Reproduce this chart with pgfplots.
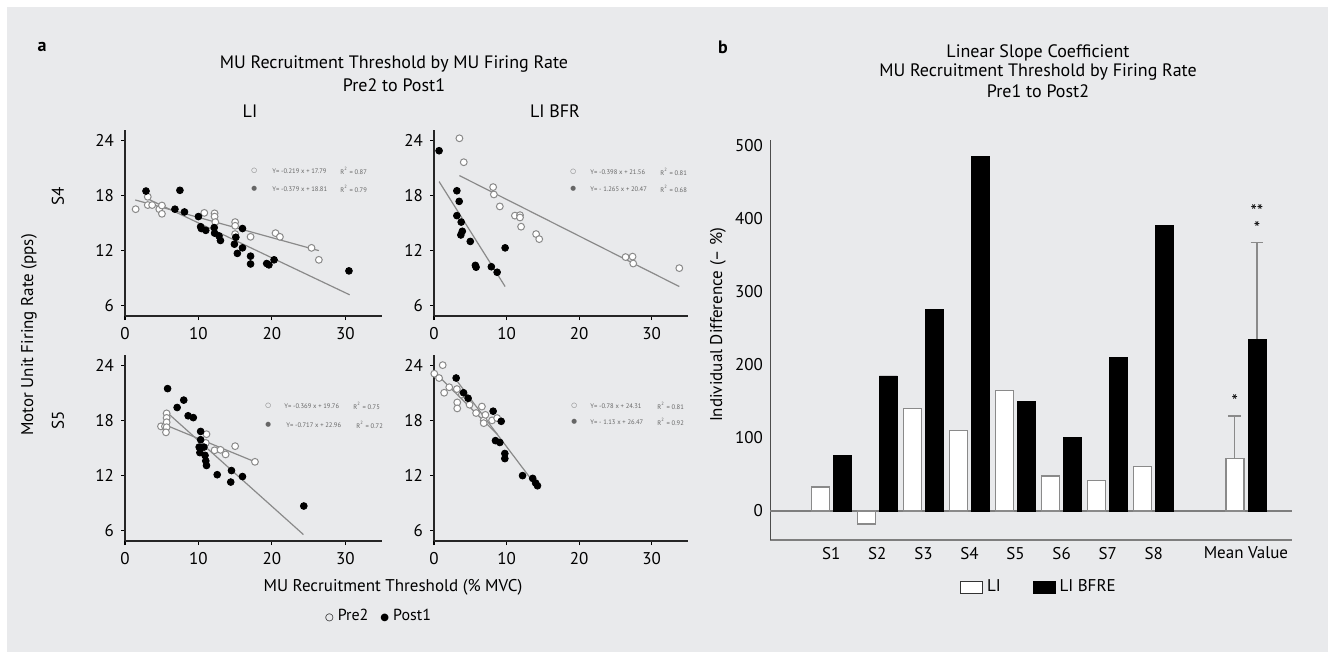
\documentclass[border=0pt]{standalone}
\usepackage{fontspec}
\setmainfont{PT Sans}
\newfontfamily\symfont{DejaVu Sans}
\usepackage{pgfplots}
\pgfplotsset{compat=1.18}
\definecolor{bg}{HTML}{E9EAEC}
\definecolor{lgray}{HTML}{8A8A8A}
\definecolor{axgray}{HTML}{7E7E7E}
\pgfplotsset{
  scat/.style={
    scale only axis, height=93pt,
    xmin=0, xmax=35, ymin=4.9, ymax=25.1,
    axis x line*=bottom, axis y line*=left,
    axis line style={line width=1pt, color=black!85, -},
    xtick={0,10,20,30}, ytick={6,12,18,24},
    tick style={line width=0.6pt, black},
    tick align=outside, major tick length=2pt,
    ticklabel style={font=\fontsize{8.5}{9}\selectfont},
    /pgf/number format/assume math mode=true,
    clip=false, anchor=south west,
  },
  pre/.style={only marks, mark=*, mark size=1.7pt, mark options={fill=white, draw=lgray, line width=0.5pt}},
  post/.style={only marks, mark=*, mark size=1.7pt, mark options={fill=black, draw=black}},
  fit/.style={no marks, color=lgray, line width=0.6pt},
}
\newcommand{\eqfont}{\fontsize{3.3}{3.6}\selectfont}
\begin{document}
\begin{tikzpicture}
\begin{scope}[x=0.5pt,y=-0.5pt]
\path[use as bounding box] (0,0) rectangle (1335,659);
\fill[white] (0,0) rectangle (1335,659);
\fill[bg] (7,7) rectangle (1328,652);

% ---------- Panel a texts ----------
\node[font=\bfseries\fontsize{9}{10}\selectfont] at (42,47) {a};
\node[font=\fontsize{9}{10}\selectfont] at (394,64) {MU Recruitment Threshold by MU Firing Rate};
\node[font=\fontsize{9}{10}\selectfont] at (394,85) {Pre2 to Post1};
\node[font=\fontsize{9}{10}\selectfont] at (250,111) {LI};
\node[font=\fontsize{9}{10}\selectfont] at (555,111) {LI BFR};
\node[font=\fontsize{8.5}{10}\selectfont, rotate=90] at (29,335) {Motor Unit Firing Rate (pps)};
\node[font=\fontsize{8.5}{10}\selectfont, rotate=90] at (58,196) {S4};
\node[font=\fontsize{8.5}{10}\selectfont, rotate=90] at (58,420) {S5};
\node[font=\fontsize{8.5}{10}\selectfont] at (393,587) {MU Recruitment Threshold (\% MVC)};
\node[font=\fontsize{8}{10}\selectfont] at (378,615) {{\symfont\fontsize{5}{6}\selectfont ○}\hspace{2pt}Pre2\hspace{6pt}{\symfont\fontsize{5}{6}\selectfont ●}\hspace{2pt}Post1};

% equation legends
\begin{scope}[every node/.style={anchor=west, text=black!60, font=\eqfont, inner sep=0pt}]
\node at (251,171) {{\symfont ○}}; \node at (272,171) {Y= -0.219 x + 17.79}; \node at (340,171) {R\textsuperscript{2} = 0.87};
\node at (251,189) {{\symfont ●}}; \node at (272,189) {Y= -0.379 x + 18.81}; \node at (340,189) {R\textsuperscript{2} = 0.79};
\node at (570,172) {{\symfont ○}}; \node at (590,172) {Y= -0.398 x + 21.56}; \node at (660,172) {R\textsuperscript{2} = 0.81};
\node at (570,189) {{\symfont ●}}; \node at (590,189) {Y= - 1.265 x + 20.47}; \node at (660,189) {R\textsuperscript{2} = 0.68};
\node at (265,406) {{\symfont ○}}; \node at (284,406) {Y= -0.369 x + 19.76}; \node at (353,406) {R\textsuperscript{2} = 0.75};
\node at (265,425) {{\symfont ●}}; \node at (286,425) {Y= -0.717 x + 22.96}; \node at (356,425) {R\textsuperscript{2} = 0.72};
\node at (571,406) {{\symfont ○}}; \node at (590,406) {Y= -0.78 x + 24.31}; \node at (657,406) {R\textsuperscript{2} = 0.81};
\node at (571,422) {{\symfont ●}}; \node at (590,422) {Y= - 1.13 x + 26.47}; \node at (657,422) {R\textsuperscript{2} = 0.92};
\end{scope}

% ---------- Panel b texts ----------
\node[font=\bfseries\fontsize{9}{10}\selectfont] at (723,47) {b};
\node[font=\fontsize{9}{10}\selectfont] at (1038,53) {Linear Slope Coefficient};
\node[font=\fontsize{9}{10}\selectfont] at (1038,72) {MU Recruitment Threshold by Firing Rate};
\node[font=\fontsize{9}{10}\selectfont] at (1038,91) {Pre1 to Post2};
\node[font=\fontsize{8.5}{10}\selectfont, rotate=90] at (718,325) {Individual Difference (– \%)};
\end{scope}

% ---------- TL ----------
\begin{axis}[scat, at={(62.5pt,-158pt)}, width=128.5pt]
\addplot[fit] coordinates {(1.4,17.5) (26.4,12.0)};
\addplot[fit] coordinates {(2.9,17.7) (30.6,7.2)};
\addplot[pre] coordinates {(1.45,16.5)(3.1,17.85)(3.1,16.95)(3.7,16.95)(4.67,16.5)(5.03,16.9)(5.03,16.0)(10.8,16.1)(12.2,16.05)(12.2,15.7)(12.3,15.1)(15.0,15.1)(15.0,14.7)(15.0,13.8)(17.1,13.5)(20.5,13.9)(21.1,13.5)(25.4,12.3)(26.4,11.0)};
\addplot[post] coordinates {(2.86,18.47)(7.48,18.55)(6.8,16.5)(8.1,16.2)(10.0,15.7)(10.3,14.6)(10.4,14.4)(11.0,14.2)(12.15,14.5)(12.2,13.9)(12.8,13.6)(13.0,13.1)(15.1,13.45)(16.0,14.4)(14.9,12.7)(16.0,12.3)(15.3,11.7)(17.1,11.4)(17.1,10.55)(19.3,10.6)(19.6,10.45)(20.3,11.0)(30.5,9.8)};
\end{axis}
% ---------- TR ----------
\begin{axis}[scat, at={(217pt,-158pt)}, width=127pt]
\addplot[fit] coordinates {(3.5,20.15) (33.8,8.1)};
\addplot[fit] coordinates {(0.7,19.5) (9.8,8.1)};
\addplot[pre] coordinates {(3.5,24.2)(4.1,21.6)(8.15,18.9)(8.25,18.1)(9.07,16.8)(11.15,15.8)(11.85,15.85)(11.85,15.6)(12.0,14.6)(14.07,13.8)(14.5,13.25)(26.4,11.3)(27.36,11.35)(27.45,10.6)(33.8,10.1)};
\addplot[post] coordinates {(0.7,22.85)(3.15,18.5)(3.47,17.35)(3.15,15.8)(3.75,15.1)(3.9,14.1)(3.7,13.7)(5.0,13.0)(5.7,10.4)(5.8,10.2)(7.9,10.25)(8.7,9.65)(9.8,12.3)};
\end{axis}
% ---------- BL ----------
\begin{axis}[scat, at={(62.5pt,-270.5pt)}, width=128.5pt]
\addplot[fit] coordinates {(5.2,17.6) (17.7,13.5)};
\addplot[fit] coordinates {(5.67,18.9) (24.3,5.6)};
\addplot[pre] coordinates {(4.9,17.35)(5.44,17.35)(5.67,18.76)(5.67,18.27)(5.67,17.8)(5.67,17.26)(5.58,16.7)(11.1,16.5)(11.0,15.55)(12.2,14.75)(13.0,14.8)(13.7,14.3)(15.0,15.2)(17.7,13.5)};
\addplot[post] coordinates {(5.8,21.45)(7.1,19.4)(8.0,20.2)(8.6,18.5)(9.3,18.3)(10.3,16.8)(10.3,15.9)(10.1,15.1)(10.2,14.5)(10.75,15.1)(10.9,14.2)(11.0,13.6)(11.1,13.1)(12.56,12.1)(14.5,12.55)(14.4,11.3)(16.0,11.9)(24.35,8.7)};
\end{axis}
% ---------- BR ----------
\begin{axis}[scat, at={(217pt,-270.5pt)}, width=127pt]
\addplot[fit] coordinates {(0,23.3) (8.7,16.5)};
\addplot[fit] coordinates {(3.05,22.4) (14.26,10.7)};
\addplot[pre] coordinates {(0.04,23.07)(1.2,24.0)(0.7,22.6)(1.4,21.0)(2.1,21.6)(3.15,21.4)(3.2,19.95)(3.2,19.3)(3.85,20.8)(4.9,19.7)(5.8,18.8)(6.6,19.5)(6.85,18.0)(6.85,17.7)(8.0,18.0)(8.7,18.25)(7.08,18.6)};
\addplot[post] coordinates {(3.05,22.6)(4.7,20.4)(4.07,21.0)(8.15,19.0)(9.26,17.9)(8.47,15.8)(9.07,15.6)(9.76,14.4)(9.76,13.85)(12.2,12.0)(13.6,11.7)(14.0,11.2)(14.26,10.9)};
\end{axis}

% ---------- Panel b ----------
\begin{axis}[
  at={(385pt,-270pt)}, anchor=south west,
  scale only axis, width=261pt, height=200pt,
  xmin=-0.33, xmax=11, ymin=-39.7, ymax=508,
  axis x line*=bottom, axis y line*=left,
  x axis line style={line width=1.1pt, color=axgray, -},
  y axis line style={line width=0.5pt, color=black!70, -},
  xtick={1,2,3,4,5,6,7,8,10},
  xticklabels={S1,S2,S3,S4,S5,S6,S7,S8,Mean Value},
  ytick={0,100,200,300,400,500},
  major tick length=0pt,
  ticklabel style={font=\fontsize{8.5}{9}\selectfont},
  /pgf/number format/assume math mode=true,
  clip=false,
  legend style={at={(0.517,-0.1175)}, anchor=center, draw=none, fill=none,
    font=\fontsize{8.5}{9}\selectfont, legend columns=2,
    /tikz/every even column/.append style={column sep=14pt}},
]
\addplot[forget plot, color=axgray, line width=0.9pt] coordinates {(-0.33,0) (11,0)};
\addplot[ybar, bar width=0.39, bar shift=-0.24, fill=white, draw=lgray, line width=0.7pt,
  legend image code/.code={\draw[fill=white, draw=black!80, line width=0.5pt] (0pt,-3pt) rectangle (11pt,3pt);}]
  coordinates {(1,33)(2,-18)(3,140)(4,110)(5,165)(6,48)(7,42)(8,61)(10,72)};
\addlegendentry{LI}
\addplot[ybar, bar width=0.39, bar shift=0.24, fill=black, draw=black,
  legend image code/.code={\fill[black] (0pt,-3pt) rectangle (11pt,3pt);}]
  coordinates {(1,76)(2,185)(3,276)(4,485)(5,150)(6,101)(7,210)(8,391)(10,235)};
\addlegendentry{LI BFRE}
% error bars (upper only)
\addplot[forget plot, lgray, line width=0.6pt] coordinates {(9.76,72) (9.76,130)};
\addplot[forget plot, lgray, line width=0.6pt] coordinates {(9.62,130) (9.90,130)};
\addplot[forget plot, lgray, line width=0.6pt] coordinates {(10.24,235) (10.24,368)};
\addplot[forget plot, lgray, line width=0.6pt] coordinates {(10.10,368) (10.38,368)};
\node[font=\fontsize{9}{9}\selectfont] at (axis cs:9.76,150) {*};
\node[font=\fontsize{9}{9}\selectfont] at (axis cs:10.24,387) {*};
\node[font=\fontsize{9}{9}\selectfont] at (axis cs:10.24,411) {**};
\end{axis}
\end{tikzpicture}
\end{document}
